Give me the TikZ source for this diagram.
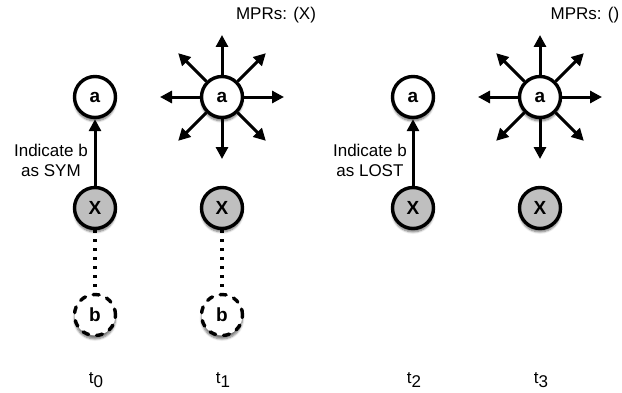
\documentclass[tikz,border=0pt]{standalone}
\usepackage{fontspec}
\setmainfont{Liberation Sans}
\usetikzlibrary{arrows.meta,shadows.blur}

\tikzset{
  nodecirc/.style={circle, draw, fill=white, line width=3.4pt, minimum size=41pt, inner sep=0pt,
    font=\bfseries\fontsize{19}{22}\selectfont,
    blur shadow={shadow xshift=0pt, shadow yshift=-3.5pt, shadow blur steps=6, shadow opacity=55}},
  xcirc/.style={nodecirc, fill=black!25},
  lostcirc/.style={nodecirc, dash pattern=on 6pt off 8pt, line cap=round},
  arr/.style={line width=3pt, -{Triangle[length=12pt,width=12pt]}},
  dots/.style={line width=3.2pt, dash pattern=on 3pt off 6pt},
  txt/.style={font=\fontsize{17}{20}\selectfont, inner sep=0pt}
}

\begin{document}
\begin{tikzpicture}[x=1pt, y=1pt]
\useasboundingbox (0,0) rectangle (622,392);

% t0
\node[nodecirc] (a0) at (95,295) {a};
\node[xcirc] (x0) at (95,184) {X};
\node[lostcirc] (b0) at (95,77) {b};
\draw[arr] (x0) -- (a0);
\draw[dots, shorten >=6pt] (x0) -- (b0);
\node[txt, align=center, anchor=east] (lab0) at (88,232) {Indicate b\\as SYM};
\node[txt] (t0) at (96,12) {t\raisebox{-4pt}{0}};

% t1
\node[nodecirc] (a1) at (222,295) {a};
\node[xcirc] (x1) at (222,184) {X};
\node[lostcirc] (b1) at (222,77) {b};
\draw[dots, shorten >=6pt] (x1) -- (b1);
\foreach \ang in {0,45,...,315}{
  \path (a1.center) ++(\ang:62) coordinate (s1\ang);
  \draw[arr] (a1) -- (s1\ang);
}
\node[txt] (mpr1) at (276,377) {MPRs: (X)};
\node[txt] (t1) at (223,12) {t\raisebox{-4pt}{1}};

% t2
\node[nodecirc] (a2) at (413,295) {a};
\node[xcirc] (x2) at (413,184) {X};
\draw[arr] (x2) -- (a2);
\node[txt, align=center, anchor=east] (lab2) at (407,232) {Indicate b\\as LOST};
\node[txt] (t2) at (414,12) {t\raisebox{-4pt}{2}};

% t3
\node[nodecirc] (a3) at (540,295) {a};
\node[xcirc] (x3) at (540,184) {X};
\foreach \ang in {0,45,...,315}{
  \path (a3.center) ++(\ang:62) coordinate (s3\ang);
  \draw[arr] (a3) -- (s3\ang);
}
\node[txt] (mpr3) at (585,377) {MPRs: ()};
\node[txt] (t3) at (541,12) {t\raisebox{-4pt}{3}};

\end{tikzpicture}
\end{document}
